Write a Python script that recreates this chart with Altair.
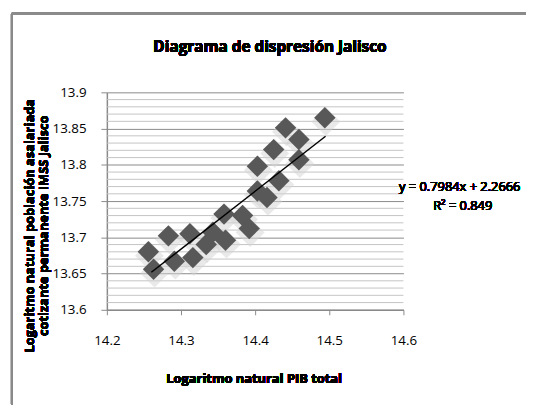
import altair as alt
import pandas as pd

# ---- data ----
x_vals = [14.494, 14.441, 14.459, 14.425, 14.459, 14.403, 14.432, 14.403, 14.416, 14.383, 14.392,
          14.256, 14.263, 14.283, 14.291, 14.312, 14.316, 14.334, 14.343, 14.358, 14.360]
y_vals = [13.865, 13.851, 13.835, 13.821, 13.807, 13.798, 13.778, 13.764, 13.755, 13.730, 13.712,
          13.680, 13.656, 13.702, 13.667, 13.705, 13.672, 13.690, 13.707, 13.732, 13.696]
x_ticks = [14.2, 14.3, 14.4, 14.5, 14.6]
y_ticks = [13.6, 13.65, 13.7, 13.75, 13.8, 13.85, 13.9]
minor_y = [13.61, 13.62, 13.63, 13.64, 13.66, 13.67, 13.68, 13.69, 13.71, 13.72, 13.73, 13.74,
           13.76, 13.77, 13.78, 13.79, 13.81, 13.82, 13.83, 13.84, 13.86, 13.87, 13.88, 13.89]
slope, intercept = 0.7984, 2.2666
trend_x = [14.26, 14.495]
trend_y = [slope * v + intercept for v in trend_x]

title_text = "Diagrama de dispresión Jalisco"
x_title = "Logaritmo natural PIB total"
y_title_1 = "Logaritmo natural población asalariada"
y_title_2 = "cotizante permanente IMSS Jalisco"
eq_text = "y = 0.7984x + 2.2666"
r2_text = "R² = 0.849"

FONT = "Open Sans"
GRID_DARK = "#8a8a8a"
GRID_LIGHT = "#c4c4c4"

pts = pd.DataFrame({"x": x_vals, "y": y_vals})
trend = pd.DataFrame({"x": trend_x, "y": trend_y})
minor = pd.DataFrame({"y": minor_y})

xs = alt.Scale(domain=[14.2, 14.6], nice=False, zero=False)
ys = alt.Scale(domain=[13.6, 13.9], nice=False, zero=False)

x_enc = alt.X("x:Q", scale=xs, title=None,
              axis=alt.Axis(values=x_ticks, format=".1f", grid=False, domainColor=GRID_DARK,
                            domainWidth=1.5, tickColor=GRID_DARK, tickSize=5, labelPadding=19,
                            labelFlush=False, labelFont=FONT, labelFontSize=13.5,
                            labelColor="#000"))
y_enc = alt.Y("y:Q", scale=ys, title=None,
              axis=alt.Axis(values=y_ticks, format=".4~g", grid=True, gridColor=GRID_DARK,
                            domainColor=GRID_DARK, domainWidth=1.5, tickColor=GRID_DARK,
                            tickSize=6, labelPadding=15, labelFlush=False, labelFont=FONT,
                            labelFontSize=13.5, labelColor="#000"))

minor_rules = alt.Chart(minor).mark_rule(color=GRID_LIGHT, strokeWidth=1).encode(
    y=y_enc, x=alt.value(0), x2=alt.value(300))

shadow = alt.Chart(pts).mark_point(shape="diamond", filled=True, color="#d4d4d4",
                                    opacity=0.5, size=850, yOffset=4, xOffset=1).encode(x=x_enc, y=y_enc)
points = alt.Chart(pts).mark_point(shape="diamond", filled=True, color="#585858",
                                    opacity=1, size=470).encode(x=x_enc, y=y_enc)
line = alt.Chart(trend).mark_line(color="#000", strokeWidth=1.5).encode(x=x_enc, y=y_enc)

def txt(text, x, y, size=13, weight="normal", align="center", angle=0):
    kw = dict(text=text, font=FONT, fontSize=size, fontWeight=weight, align=align,
              baseline="middle", color="#000")
    if angle:
        kw["angle"] = angle
    return alt.Chart(pts).mark_text(**kw).encode(x=alt.value(x), y=alt.value(y))

title = txt(title_text, 165, -46, size=15.5, weight="bold")
xt = txt(x_title, 149, 290, size=13, weight="bold")
yt1 = txt(y_title_1, -78, 135, size=13, weight="bold", angle=270)
yt2 = txt(y_title_2, -64, 135, size=13, weight="bold", angle=270)
eq = txt(eq_text, 357, 96, size=13)
r2 = txt(r2_text, 360, 115, size=13)

frame_top = alt.Chart(pts).mark_rule(color=GRID_DARK, strokeWidth=2).encode(
    x=alt.value(-96), x2=alt.value(424), y=alt.value(-80))
frame_left = alt.Chart(pts).mark_rule(color=GRID_DARK, strokeWidth=2).encode(
    x=alt.value(-96), y=alt.value(-80), y2=alt.value(316))

chart = alt.layer(
    minor_rules, shadow, points, line, title, xt, yt1, yt2, eq, r2, frame_top, frame_left
).properties(
    width=300, height=220,
    padding={"left": 100, "top": 83, "right": 124, "bottom": 96},
    autosize=alt.AutoSizeParams(type="none"),
    background="white",
).configure_view(stroke=None)

chart.save("out.html", embed_options={"renderer": "svg", "actions": False})
